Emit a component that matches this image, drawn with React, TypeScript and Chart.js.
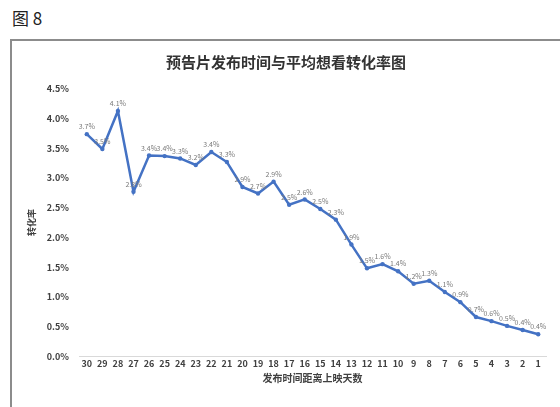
import React, { useEffect, useRef } from "react";
import { Chart, registerables } from "chart.js";

Chart.register(...registerables);

const caption = "图 8";
const chartTitle = "预告片发布时间与平均想看转化率图";
const xAxisTitle = "发布时间距离上映天数";
const yAxisTitle = "转化率";

const days = [
  "30", "29", "28", "27", "26", "25", "24", "23", "22", "21",
  "20", "19", "18", "17", "16", "15", "14", "13", "12", "11",
  "10", "9", "8", "7", "6", "5", "4", "3", "2", "1",
];

const rates = [
  3.74, 3.49, 4.13, 2.77, 3.38, 3.37, 3.33, 3.22, 3.44, 3.27,
  2.85, 2.74, 2.94, 2.55, 2.64, 2.48, 2.3, 1.88, 1.48, 1.55,
  1.43, 1.22, 1.27, 1.08, 0.91, 0.66, 0.59, 0.51, 0.44, 0.37,
];

const yMin = 0;
const yMax = 4.5;
const yStep = 0.5;

const FONT = "'Noto Sans CJK SC', 'Noto Sans', sans-serif";

const valueLabels = {
  id: "valueLabels",
  afterDatasetsDraw(chart: any) {
    const ctx = chart.ctx;
    const meta = chart.getDatasetMeta(0);
    ctx.save();
    ctx.font = `7px ${FONT}`;
    ctx.fillStyle = "#7a7a7a";
    ctx.textAlign = "center";
    ctx.textBaseline = "bottom";
    meta.data.forEach((pt: any, i: number) => {
      ctx.fillText(rates[i].toFixed(1) + "%", pt.x, pt.y - 4);
    });
    ctx.restore();
  },
};

export default function App() {
  const canvasRef = useRef<HTMLCanvasElement | null>(null);

  useEffect(() => {
    if (!canvasRef.current) return;
    const chart = new Chart(canvasRef.current, {
      type: "line",
      data: {
        labels: days,
        datasets: [
          {
            data: rates,
            borderColor: "#4472C4",
            backgroundColor: "#4472C4",
            borderWidth: 2.5,
            pointRadius: 2.2,
            pointBorderWidth: 0,
            pointBackgroundColor: "#4472C4",
            tension: 0,
          },
        ],
      },
      options: {
        responsive: false,
        animation: false,
        layout: { padding: { left: 14, right: 14, top: 0, bottom: 23 } },
        plugins: {
          legend: { display: false },
          tooltip: { enabled: false },
          title: {
            display: true,
            text: chartTitle,
            color: "#333333",
            font: { family: FONT, size: 15, weight: "bold" },
            padding: { top: 12, bottom: 18 },
          },
        },
        scales: {
          x: {
            type: "category",
            offset: true,
            grid: { display: false, drawTicks: false },
            border: { display: true, color: "#d9d9d9" },
            ticks: {
              autoSkip: false,
              maxRotation: 0,
              minRotation: 0,
              color: "#404040",
              font: { family: FONT, size: 9, weight: "bold" },
              padding: 2,
            },
            title: {
              display: true,
              text: xAxisTitle,
              color: "#404040",
              font: { family: FONT, size: 10, weight: "bold" },
              padding: { top: 1, bottom: 0 },
            },
          },
          y: {
            min: yMin,
            max: yMax,
            grid: { display: false, drawTicks: false },
            border: { display: false },
            ticks: {
              stepSize: yStep,
              color: "#404040",
              font: { family: FONT, size: 9, weight: "bold" },
              padding: 10,
              callback: (v: any) => Number(v).toFixed(1) + "%",
            },
            title: {
              display: true,
              text: yAxisTitle,
              color: "#404040",
              font: { family: FONT, size: 9, weight: "bold" },
              padding: { top: 0, bottom: 0 },
            },
          },
        },
      },
      plugins: [valueLabels],
    });
    return () => chart.destroy();
  }, []);

  return (
    <div
      style={{
        position: "fixed",
        left: 0,
        top: 0,
        width: 560,
        height: 407,
        overflow: "hidden",
        background: "#ffffff",
      }}
    >
      <div
        style={{
          position: "absolute",
          left: 12,
          top: 7,
          fontFamily: FONT,
          fontSize: 17,
          color: "#222222",
          lineHeight: "22px",
        }}
      >
        {caption}
      </div>
      <div
        style={{
          position: "absolute",
          left: 10,
          top: 39,
          width: 580,
          height: 400,
          border: "2px solid #8c8c8c",
        }}
      />
      <canvas
        ref={canvasRef}
        width={548}
        height={366}
        style={{ position: "absolute", left: 12, top: 41, width: 548, height: 366 }}
      />
    </div>
  );
}
